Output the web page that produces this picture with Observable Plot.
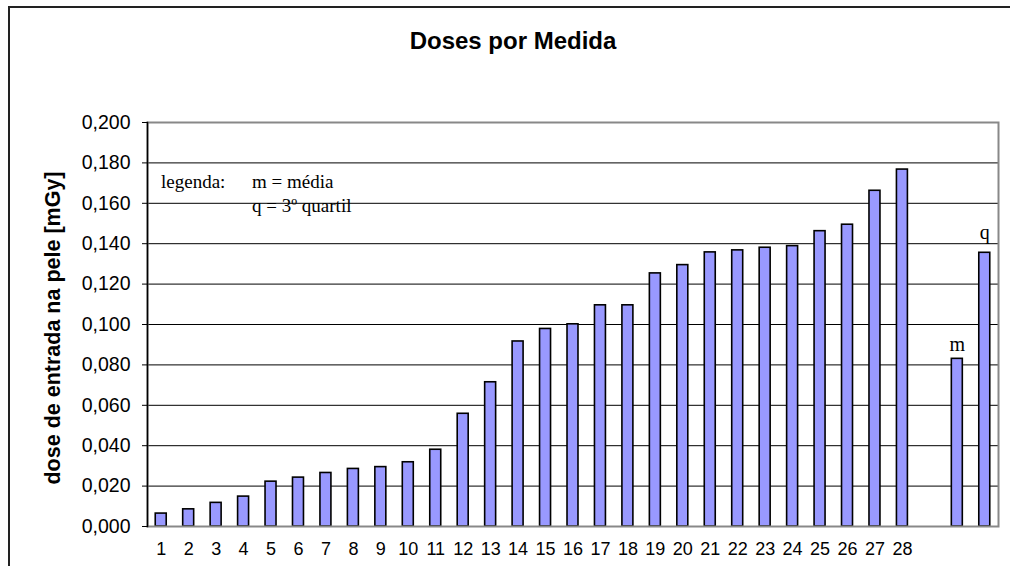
<!DOCTYPE html>
<html>
<head>
<meta charset="utf-8">
<script src="https://cdn.jsdelivr.net/npm/d3@7"></script>
<script src="https://cdn.jsdelivr.net/npm/@observablehq/plot@0.6"></script>
<style>
  html, body { margin: 0; padding: 0; background: #fff; }
  #wrap { position: relative; width: 1010px; height: 566px; overflow: hidden; font-family: "Liberation Sans", Arial, sans-serif; }
  #border { position: absolute; left: 8px; top: 6px; width: 1100px; height: 700px; border-top: 2px solid #222; border-left: 2px solid #222; }
  #title { position: absolute; top: 27px; left: 0; width: 1026px; text-align: center; font-weight: bold; font-size: 24px; color: #000; }
  #ylabel { position: absolute; left: 53px; top: 328px; transform: translate(-50%, -50%) rotate(-90deg); white-space: nowrap; font-weight: bold; font-size: 21.5px; color: #000; }
  .leg { position: absolute; font-family: "Liberation Serif", "Times New Roman", serif; font-size: 19px; color: #000; white-space: nowrap; }
  #chart { position: absolute; left: 0; top: 0; }
</style>
</head>
<body>
<div id="wrap">
  <div id="border"></div>
  <div id="chart"></div>
  <div id="title">Doses por Medida</div>
  <div id="ylabel">dose de entrada na pele [mGy]</div>
  <div class="leg" style="left:161px; top:171px;">legenda:</div>
  <div class="leg" style="left:252px; top:171px;">m = média</div>
  <div class="leg" style="left:252px; top:195px;">q = 3º quartil</div>
</div>
<script>
// Measurement labels and doses (mGy)
const measures = ["1","2","3","4","5","6","7","8","9","10","11","12","13","14","15","16","17","18","19","20","21","22","23","24","25","26","27","28"];
const doses = [0.0064, 0.0085, 0.0117, 0.0148, 0.0222, 0.0242, 0.0265, 0.0285, 0.0294, 0.0318,
               0.0380, 0.0558, 0.0714, 0.0916, 0.0978, 0.1001, 0.1095, 0.1095, 0.1253, 0.1294,
               0.1357, 0.1367, 0.1380, 0.1388, 0.1462, 0.1494, 0.1662, 0.1767];
// Summary bars: m = média, q = 3º quartil
const summaryKeys = ["m", "q"];
const summaryValues = [0.083, 0.1355];
const gapKey = " ";
const yTicks = [0, 0.02, 0.04, 0.06, 0.08, 0.10, 0.12, 0.14, 0.16, 0.18, 0.20];
const gridTicks = [0.02, 0.04, 0.06, 0.08, 0.10, 0.12, 0.14, 0.16, 0.18];

const data = measures.map((k, i) => ({cat: k, value: doses[i]}));
const summary = summaryKeys.map((k, i) => ({cat: k, value: summaryValues[i]}));
const domain = [...measures, gapKey, ...summaryKeys];
const serif = "'Liberation Serif', 'Times New Roman', serif";

const chart = Plot.plot({
  width: 1010,
  height: 566,
  marginLeft: 147,
  marginRight: 12,
  marginTop: 122,
  marginBottom: 40,
  style: {fontFamily: "'Liberation Sans', Arial, sans-serif", background: "transparent", color: "#000"},
  x: {domain, paddingInner: 0.6, paddingOuter: 0.3, round: false, axis: null},
  y: {domain: [0, 0.2], axis: null},
  marks: [
    Plot.ruleY(gridTicks, {stroke: "#000", strokeWidth: 1}),
    Plot.barY(data, {x: "cat", y: "value", fill: "#9999FF", stroke: "#000", strokeWidth: 1.6}),
    Plot.barY(summary, {x: "cat", y: "value", fill: "#9999FF", stroke: "#000", strokeWidth: 1.6}),
    Plot.frame({stroke: "#888", strokeWidth: 2}),
    Plot.frame({anchor: "left", stroke: "#000", strokeWidth: 1.5}),
    Plot.axisY(yTicks, {
      tickSize: 5, tickPadding: 12, fontSize: 19.5, label: null, stroke: "#000",
      tickFormat: d => d.toFixed(3).replace(".", ",")
    }),
    Plot.axisX(measures, {tickSize: 0, tickPadding: 16, fontSize: 18, label: null}),
    Plot.text(summary.filter(d => d.cat === "m"), {x: "cat", y: "value", text: "cat", dy: -14, fontFamily: serif, fontSize: 20, fill: "#000"}),
    Plot.text(summary.filter(d => d.cat === "q"), {x: "cat", y: "value", text: "cat", dy: -20, fontFamily: serif, fontSize: 20, fill: "#000"})
  ]
});
document.getElementById("chart").appendChild(chart);
</script>
</body>
</html>
